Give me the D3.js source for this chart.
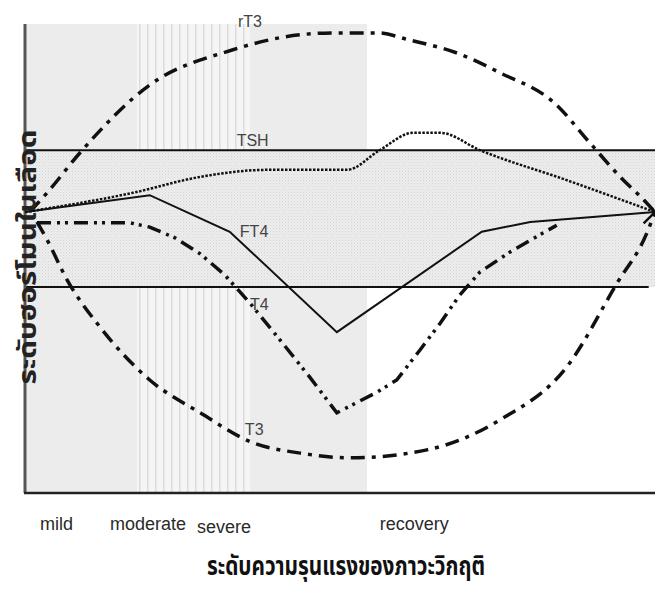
<!DOCTYPE html>
<html>
<head>
<meta charset="utf-8">
<script src="https://cdn.jsdelivr.net/npm/d3@7"></script>
<style>
  body { margin: 0; background: #fff; }
  svg { display: block; }
</style>
</head>
<body>
<div id="chart"></div>
<script>
// stage boundaries along the x axis (0..100) and their labels
const phaseBounds = [0, 17.8, 35.7, 54.3];
const phaseFills = ["shade", "stripes", "shade"];
const stageLabels = ["mild", "moderate", "severe", "recovery"];
const stageLabelX = [2.4, 13.5, 27.3, 56.3];

// normal range of hormone level
const normalRange = [43.9, 73.1];

// hormone curves: [x, level]
const rT3 = [[0.8, 60], [3.5, 64], [8.7, 72.5], [19.8, 87], [33, 94.5], [41, 97.2],
             [49, 98.1], [56, 98.1], [61, 96.6], [69, 93.6], [75.4, 89.6], [84, 83.2], [89.7, 74.6],
             [94.4, 67.5], [98.7, 61.8], [100, 59.9]];
const tsh = [[0, 59.9], [17.1, 64], [27.8, 67.4], [38.4, 68.9], [51.1, 68.9], [56.3, 73.1],
             [61.6, 76.8], [65.9, 76.8], [72.2, 73.1], [86, 66.7], [100, 59.9]];
const ft4 = [[0, 59.9], [19.8, 63.5], [32.5, 55.7], [49.5, 34.3], [72.5, 55.7], [80.2, 57.8], [100, 59.9]];
const t4 = [[1.9, 57.6], [16.7, 57.6], [19.8, 56.7], [23.8, 54.4], [27.8, 51], [31.7, 46.5], [35.7, 40.5],
            [40.5, 32.6], [45.2, 24.7], [49.5, 17.1], [55.9, 21.5], [59, 24.1], [62.7, 30.5], [65.9, 36.2],
            [69, 42.2], [72.2, 47.1], [77, 51.4], [84.4, 57.1]];
const t3 = [[1.9, 57.8], [3.5, 54], [6.7, 45.4], [11.9, 35.4], [19.8, 24.1], [27.8, 17.1], [36.2, 10.7],
            [43.7, 8.5], [51.6, 7.5], [63.8, 9.2], [75.4, 15.6], [86, 26.9], [94, 44.8], [98.7, 55.4], [100, 59.9]];

const curveNames = ["rT3", "TSH", "FT4", "T4", "T3"];
const labelPos = [[33.8, 99.4], [33.6, 74.0], [34.1, 54.6], [35.7, 39.0], [34.9, 12.4]];

const W = 655, H = 595;
const margin = { top: 24, right: 0, bottom: 102, left: 25 };

const svg = d3.select("#chart").append("svg")
    .attr("width", W)
    .attr("height", H);

const x = d3.scaleLinear().domain([0, 100]).range([margin.left, W - margin.right]);
const y = d3.scaleLinear().domain([0, 100]).range([H - margin.bottom, margin.top]);

// patterns
const defs = svg.append("defs");
const stipple = defs.append("pattern")
    .attr("id", "stipple")
    .attr("width", 3).attr("height", 3)
    .attr("patternUnits", "userSpaceOnUse");
stipple.append("rect").attr("width", 3).attr("height", 3).attr("fill", "#ededed");
stipple.append("rect").attr("width", 1).attr("height", 1).attr("fill", "#d6d6d6");
stipple.append("rect").attr("x", 1.5).attr("y", 1.5).attr("width", 1).attr("height", 1).attr("fill", "#e0e0e0");

const stripes = defs.append("pattern")
    .attr("id", "stripes")
    .attr("width", 8).attr("height", 10)
    .attr("patternUnits", "userSpaceOnUse");
stripes.append("rect").attr("width", 8).attr("height", 10).attr("fill", "#f5f5f5");
stripes.append("rect").attr("x", 3).attr("width", 1.5).attr("height", 10).attr("fill", "#dcdcdc");

// phase shading
svg.selectAll(".phase")
    .data(phaseFills)
    .join("rect")
    .attr("class", "phase")
    .attr("x", (d, i) => x(phaseBounds[i]))
    .attr("width", (d, i) => x(phaseBounds[i + 1]) - x(phaseBounds[i]))
    .attr("y", y(100))
    .attr("height", y(0) - y(100))
    .attr("fill", d => d === "shade" ? "#ececec" : "url(#stripes)");

// normal range band
svg.append("rect")
    .attr("x", x(0))
    .attr("width", x(100) - x(0))
    .attr("y", y(normalRange[1]))
    .attr("height", y(normalRange[0]) - y(normalRange[1]))
    .attr("fill", "url(#stipple)");

svg.append("line")
    .attr("x1", x(0)).attr("x2", x(100))
    .attr("y1", y(normalRange[1])).attr("y2", y(normalRange[1]))
    .attr("stroke", "#111").attr("stroke-width", 2);
svg.append("line")
    .attr("x1", x(0)).attr("x2", x(99))
    .attr("y1", y(normalRange[0])).attr("y2", y(normalRange[0]))
    .attr("stroke", "#111").attr("stroke-width", 2);

// axes
svg.append("line")
    .attr("x1", x(0)).attr("x2", x(0))
    .attr("y1", y(100)).attr("y2", y(0))
    .attr("stroke", "#555").attr("stroke-width", 3);
svg.append("line")
    .attr("x1", x(0) - 1).attr("x2", x(100))
    .attr("y1", y(0)).attr("y2", y(0))
    .attr("stroke", "#222").attr("stroke-width", 2.5);

// curves
const line = d3.line().x(d => x(d[0])).y(d => y(d[1]));
const smooth = d3.line().x(d => x(d[0])).y(d => y(d[1])).curve(d3.curveMonotoneX);

const series = [
    { data: rT3, gen: smooth, width: 3.5, dash: "14,7,4,7" },
    { data: tsh, gen: smooth, width: 2.5, dash: "2.5,1.5" },
    { data: ft4, gen: line, width: 2, dash: null },
    { data: t4, gen: line, width: 3.5, dash: "14,6,3,5,3,6" },
    { data: t3, gen: smooth, width: 3.5, dash: "14,7,4,7" }
];

svg.selectAll(".curve")
    .data(series)
    .join("path")
    .attr("class", "curve")
    .attr("d", d => d.gen(d.data))
    .attr("fill", "none")
    .attr("stroke", "#111")
    .attr("stroke-width", d => d.width)
    .attr("stroke-dasharray", d => d.dash);

// arrow tip at right end
svg.append("path")
    .attr("d", `M${x(98.2)},${y(62.5)} L${x(100)},${y(59.9)} L${x(98.2)},${y(57.5)}`)
    .attr("fill", "none")
    .attr("stroke", "#111")
    .attr("stroke-width", 2.5);

// curve labels
svg.selectAll(".clabel")
    .data(curveNames)
    .join("text")
    .attr("class", "clabel")
    .attr("x", (d, i) => x(labelPos[i][0]))
    .attr("y", (d, i) => y(labelPos[i][1]))
    .attr("font-family", "Arial, 'Liberation Sans', sans-serif")
    .attr("font-size", 16)
    .attr("fill", "#444")
    .text(d => d);

// stage labels
svg.selectAll(".slabel")
    .data(stageLabels)
    .join("text")
    .attr("class", "slabel")
    .attr("x", (d, i) => x(stageLabelX[i]))
    .attr("y", (d, i) => i === 2 ? 533 : 530)
    .attr("font-family", "Arial, 'Liberation Sans', sans-serif")
    .attr("font-size", 18)
    .attr("fill", "#2a2a2a")
    .text(d => d);

// axis titles
svg.append("text")
    .attr("x", 346)
    .attr("y", 575)
    .attr("text-anchor", "middle")
    .attr("font-family", "'Noto Sans Thai', 'Noto Serif Thai', Loma, 'Noto Sans', sans-serif")
    .attr("font-size", 27)
    .attr("font-weight", "bold")
    .attr("textLength", 278)
    .attr("lengthAdjust", "spacingAndGlyphs")
    .attr("fill", "#111")
    .text("ระดับความรุนแรงของภาวะวิกฤติ");

svg.append("text")
    .attr("transform", `translate(36, 257) rotate(-90)`)
    .attr("text-anchor", "middle")
    .attr("font-family", "'Noto Sans Thai', 'Noto Serif Thai', Loma, 'Noto Sans', sans-serif")
    .attr("font-size", 25)
    .attr("font-weight", "bold")
    .attr("textLength", 255)
    .attr("lengthAdjust", "spacingAndGlyphs")
    .attr("fill", "#222")
    .text("ระดับฮอร์โมนในเลือด");
</script>
</body>
</html>
